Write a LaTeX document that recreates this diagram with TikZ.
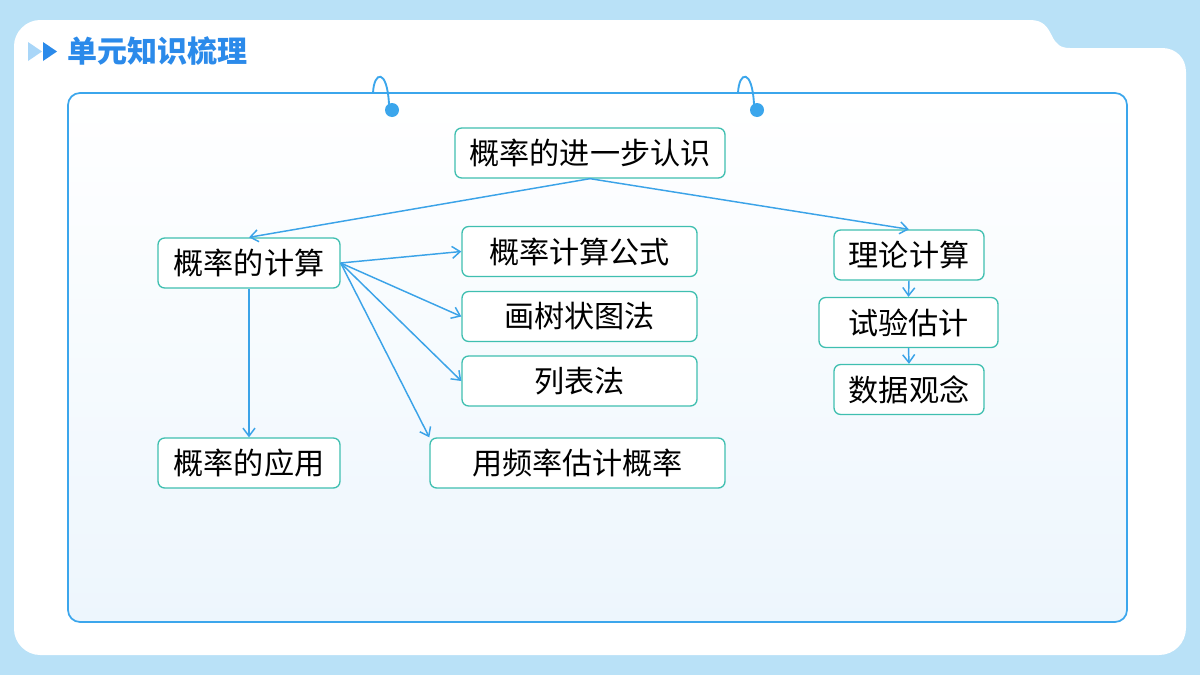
\documentclass[tikz,border=0pt]{standalone}
\usepackage{fontspec}
\newfontfamily\cjk{Noto Sans CJK SC}
\usetikzlibrary{arrows.meta}

\definecolor{skyback}{HTML}{B9E1F7}
\definecolor{frameblue}{HTML}{3BA6EC}
\definecolor{paleblue}{HTML}{EDF6FD}
\definecolor{titleblue}{HTML}{2B8AEA}
\definecolor{lightarrow}{HTML}{A9D6F8}
\definecolor{boxteal}{HTML}{3FBFB0}
\definecolor{linkblue}{HTML}{3BA3E8}

\tikzset{every picture/.style={line width=0.75pt}}
\tikzset{
  knode/.style={draw=boxteal, line width=1pt, rounded corners=5pt, fill=white,
    minimum height=37.5pt, inner sep=0pt, font=\cjk\fontsize{22.6}{27}\selectfont},
  link/.style={draw=linkblue, line width=1.1pt, -{Straight Barb[length=6pt,width=9pt]}},
  hook/.style={draw=frameblue, line width=1.4pt}
}

\begin{document}
\begin{tikzpicture}[x=0.75pt,y=0.75pt,yscale=-1,xscale=1]
\useasboundingbox (0,0) rectangle (1200,675);

%Shape: Background
\fill [skyback] (0,0) rectangle (1200,675);
%Shape: White Panel with tab
\fill [white] (40,20) -- (1030,20) .. controls (1044,20) and (1048,28) .. (1052,36) .. controls (1056,44) and (1060,48) .. (1070,48) -- (1162,48) .. controls (1176,48) and (1186,58) .. (1186,72) -- (1186,628) .. controls (1186,643) and (1174,655) .. (1159,655) -- (40,655) .. controls (26,655) and (14,643) .. (14,629) -- (14,46) .. controls (14,32) and (26,20) .. (40,20) -- cycle ;

%Shape: Title arrows
\fill [lightarrow] (28,42) -- (42,51.5) -- (28,61) -- cycle ;
\fill [titleblue] (43,42) -- (57,51.5) -- (43,61) -- cycle ;
%Title
\node [anchor=west, text=titleblue, font=\cjk\bfseries\fontsize{22.5}{27}\selectfont] (title) at (63,51) {单元知识梳理};

%Shape: Inner Panel
\draw [frameblue, line width=1.3pt, rounded corners=9pt, top color=white, bottom color=paleblue] (68,93) rectangle (1127,622) ;

%Hooks
\draw [hook] (373,93) .. controls (374,71) and (387,68) .. (389,104) ;
\fill [frameblue] (392,110) circle [radius=7] ;
\draw [hook] (738,93) .. controls (739,71) and (752,68) .. (754,104) ;
\fill [frameblue] (757,110) circle [radius=7] ;

%Nodes
\node [knode, minimum width=202.5pt] (top) at (590,153) {概率的进一步认识};
\node [knode, minimum width=136.5pt] (calc) at (249,263) {概率的计算};
\node [knode, minimum width=176.25pt] (formula) at (579.5,251.5) {概率计算公式};
\node [knode, minimum width=176.25pt] (tree) at (579.5,316.5) {画树状图法};
\node [knode, minimum width=176.25pt] (table) at (579.5,381) {列表法};
\node [knode, minimum width=221.25pt] (freq) at (577.5,463) {用频率估计概率};
\node [knode, minimum width=136.5pt] (apply) at (249,463) {概率的应用};
\node [knode, minimum width=112.5pt] (theory) at (909,255) {理论计算};
\node [knode, minimum width=134.25pt] (trial) at (908.5,322.5) {试验估计};
\node [knode, minimum width=112.5pt] (data) at (909,389.5) {数据观念};

%Straight Lines
\draw [link] (top.south) -- (calc.north) ;
\draw [link] (top.south) -- (theory.north) ;
\draw [link] (calc.east) -- (formula.west) ;
\draw [link] (calc.east) -- (tree.west) ;
\draw [link] (calc.east) -- (table.west) ;
\draw [link] (calc.east) -- (freq.north west) ;
\draw [link] (calc.south) -- (apply.north) ;
\draw [link] (theory.south) -- (trial.north) ;
\draw [link] (trial.south) -- (data.north) ;

\end{tikzpicture}
\end{document}
